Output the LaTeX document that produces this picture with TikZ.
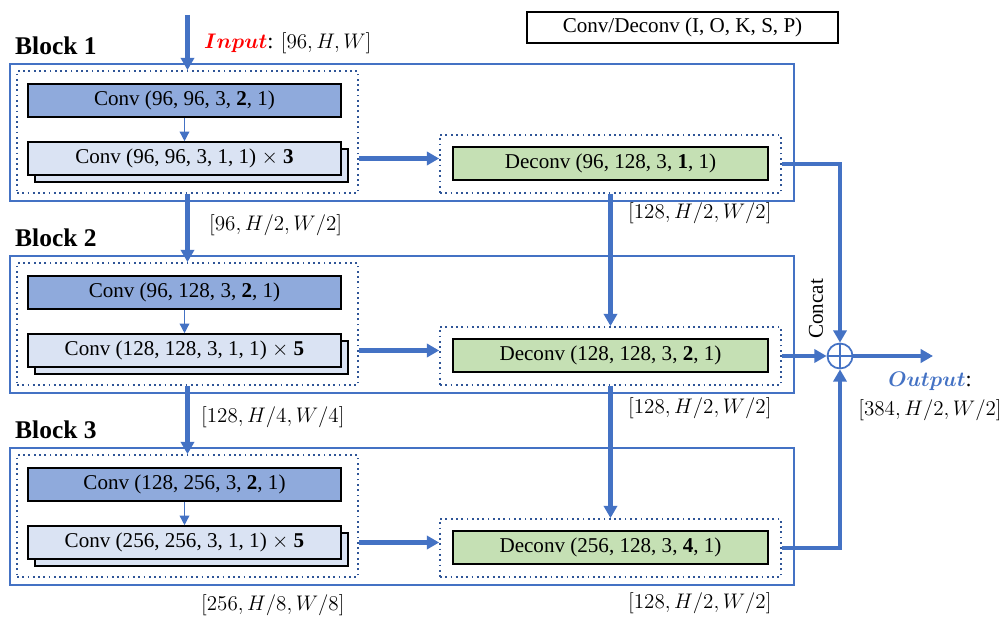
\documentclass[tikz,border=0pt]{standalone}
\usepackage{fontspec}
\setmainfont{Liberation Serif}
\usepackage{bm}
\usetikzlibrary{arrows.meta}
\definecolor{lineblue}{HTML}{4472C4}
\definecolor{dotblue}{HTML}{2F5597}
\definecolor{convdark}{HTML}{8FAADC}
\definecolor{convlight}{HTML}{DAE3F3}
\definecolor{deconvgreen}{HTML}{C5E0B4}

\begin{document}
\begin{tikzpicture}[x=0.02cm,y=-0.02cm,font=\fontsize{12}{14}\selectfont,
  blockbox/.style={draw=lineblue,line width=1pt,minimum width=15.68cm,minimum height=2.74cm,inner sep=0pt},
  leftgroup/.style={draw=dotblue,dotted,line width=1pt,minimum width=6.82cm,minimum height=2.44cm,inner sep=0pt},
  rightgroup/.style={leftgroup,minimum height=1.16cm},
  convbox/.style={draw,line width=0.9pt,fill=convdark,minimum width=6.26cm,minimum height=0.66cm,inner sep=0pt},
  repbox/.style={convbox,fill=convlight},
  deconvbox/.style={convbox,fill=deconvgreen,minimum width=6.3cm},
  blocklabel/.style={anchor=west,font=\fontsize{14.5}{16}\selectfont\bfseries},
  sizelabel/.style={anchor=west,font=\fontsize{12.5}{14}\selectfont},
  flow/.style={draw=lineblue,line width=2.3pt,-{Triangle[length=7pt,width=7.5pt]}},
  thinflow/.style={draw=lineblue,line width=0.8pt,-{Triangle[length=5.5pt,width=5.5pt]}}]

\useasboundingbox (0,0) rectangle (1006,618);

% legend
\node[draw,line width=0.9pt,minimum width=6.22cm,minimum height=0.62cm] (legend) at (682.5,27.5) {Conv/Deconv (I, O, K, S, P)};

% block 1
\node[blocklabel] (t1) at (9,46) {Block 1};
\node[blockbox] (b1) at (402,132.5) {};
\node[leftgroup] (l1) at (187.5,132) {};
\node[convbox] (c1) at (184.5,100.5) {Conv (96, 96, 3, \textbf{2}, 1)};
\node[repbox] (x1s) at (191.5,165.5) {};
\node[repbox] (x1) at (184.5,158.5) {Conv (96, 96, 3, 1, 1) $\times$ \textbf{3}};
\node[rightgroup] (r1) at (610.5,164) {};
\node[deconvbox] (d1) at (610.5,163.5) {Deconv (96, 128, 3, \textbf{1}, 1)};

% block 2
\node[blocklabel] (t2) at (9,238) {Block 2};
\node[blockbox] (b2) at (402,324.5) {};
\node[leftgroup] (l2) at (187.5,324) {};
\node[convbox] (c2) at (184.5,292.5) {Conv (96, 128, 3, \textbf{2}, 1)};
\node[repbox] (x2s) at (191.5,357.5) {};
\node[repbox] (x2) at (184.5,350.5) {Conv (128, 128, 3, 1, 1) $\times$ \textbf{5}};
\node[rightgroup] (r2) at (610.5,356) {};
\node[deconvbox] (d2) at (610.5,355.5) {Deconv (128, 128, 3, \textbf{2}, 1)};

% block 3
\node[blocklabel] (t3) at (9,430) {Block 3};
\node[blockbox] (b3) at (402,516.5) {};
\node[leftgroup] (l3) at (187.5,516) {};
\node[convbox] (c3) at (184.5,484.5) {Conv (128, 256, 3, \textbf{2}, 1)};
\node[repbox] (x3s) at (191.5,549.5) {};
\node[repbox] (x3) at (184.5,542.5) {Conv (256, 256, 3, 1, 1) $\times$ \textbf{5}};
\node[rightgroup] (r3) at (610.5,548) {};
\node[deconvbox] (d3) at (610.5,547.5) {Deconv (256, 128, 3, \textbf{4}, 1)};

% concat
\node[draw=lineblue,line width=1pt,circle,minimum size=0.5cm,inner sep=0pt] (cat) at (840,356) {};
\node[rotate=90] (cc) at (816,309) {Concat};

% sizes
\node[sizelabel] (inlbl) at (198,43) {\textcolor{red}{$\bm{Input}$}: $[96, H, W]$};
\node[sizelabel] (s1) at (203,225) {$[96, H/2, W/2]$};
\node[sizelabel] (s2) at (195,417) {$[128, H/4, W/4]$};
\node[sizelabel] (s3) at (195,605) {$[256, H/8, W/8]$};
\node[sizelabel] (u1) at (622,213) {$[128, H/2, W/2]$};
\node[sizelabel] (u2) at (622,408) {$[128, H/2, W/2]$};
\node[sizelabel] (u3) at (622,603) {$[128, H/2, W/2]$};
\node[font=\fontsize{12.5}{14}\selectfont] (outlbl) at (930,381) {\textcolor{lineblue}{$\bm{Output}$}:};
\node[font=\fontsize{12.5}{14}\selectfont] (outsz) at (930,410) {$[384, H/2, W/2]$};

% arrows
\coordinate (in) at (187.5,15);
\coordinate (out) at (933,356);
\draw[flow] (in) -- (l1.north);
\draw[flow] (l1.south) -- (l2.north);
\draw[flow] (l2.south) -- (l3.north);
\draw[thinflow] (c1.south) -- (x1.north);
\draw[thinflow] (c2.south) -- (x2.north);
\draw[thinflow] (c3.south) -- (x3.north);
\draw[flow] (x1 -| l1.east) -- (x1 -| r1.west);
\draw[flow] (x2 -| l2.east) -- (x2 -| r2.west);
\draw[flow] (x3 -| l3.east) -- (x3 -| r3.west);
\draw[flow] (r1.south) -- (r2.north);
\draw[flow] (r2.south) -- (r3.north);
\draw[flow] (r1.east) -| (cat.north);
\draw[flow] (r2.east) -- (cat.west);
\draw[flow] (r3.east) -| (cat.south);
\draw[flow] (cat.east) -- (out);
\draw[lineblue,line width=1.5pt] (cat.north) -- (cat.south) (cat.west) -- (cat.east);

\end{tikzpicture}
\end{document}
